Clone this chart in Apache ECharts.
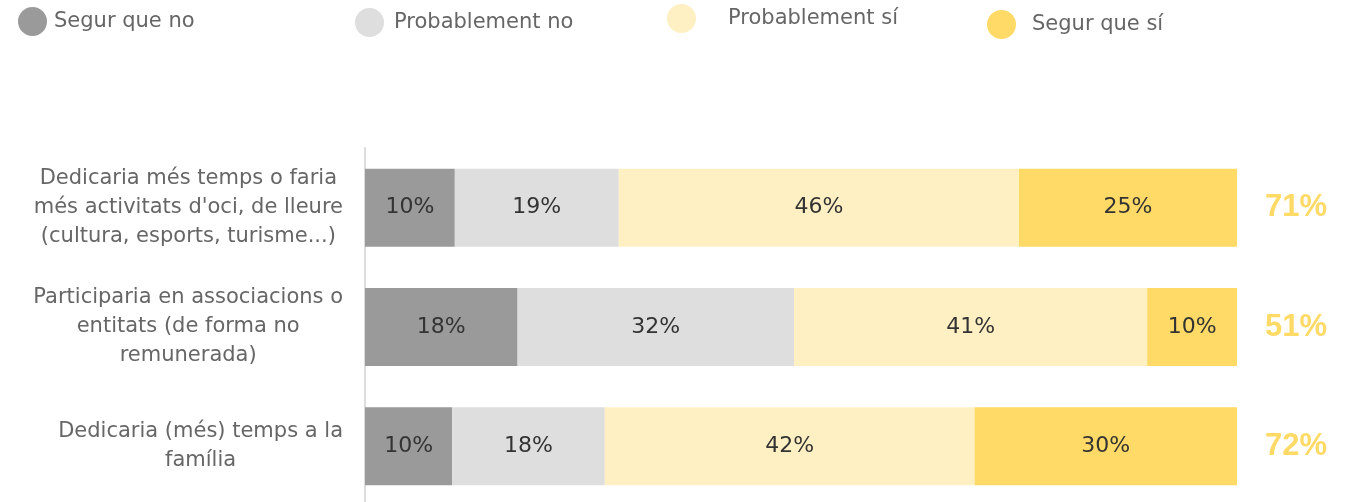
<!DOCTYPE html>
<html>
<head>
<meta charset="utf-8">
<script src="https://cdn.jsdelivr.net/npm/echarts@6/dist/echarts.min.js"></script>
<style>
  html, body { margin: 0; padding: 0; background: #fff; }
  #chart { width: 1347px; height: 502px; }
</style>
</head>
<body>
<div id="chart"></div>
<script>
// categories, top to bottom
const categories = [
  'Dedicaria més temps o faria\nmés activitats d\'oci, de lleure\n(cultura, esports, turisme...)',
  'Participaria en associacions o\nentitats (de forma no\nremunerada)',
  'Dedicaria (més) temps a la\nfamília'
]
const seriesNames = ['Segur que no', 'Probablement no', 'Probablement sí', 'Segur que sí']
const colors = ['#9a9a9a', '#dedede', '#fff0c4', '#ffda66']

// segment widths (% of respondents)
const segurNo = [10.3, 17.5, 10.0]
const probNo = [18.8, 31.7, 17.5]
const probSi = [45.9, 40.5, 42.4]
const segurSi = [25.0, 10.3, 30.1]

// printed percentages
const segurNoLabels = ['10%', '18%', '10%']
const probNoLabels = ['19%', '32%', '18%']
const probSiLabels = ['46%', '41%', '42%']
const segurSiLabels = ['25%', '10%', '30%']

// totals shown at the right (probablement + segur que sí)
const totalLabels = ['71%', '51%', '72%']

const values = [segurNo, probNo, probSi, segurSi]
const labels = [segurNoLabels, probNoLabels, probSiLabels, segurSiLabels]

const chart = echarts.init(document.getElementById('chart'))

// each legend entry sits on its own spot in the original
const legendPos = [
  { left: 18, top: 7, gap: 2 },
  { left: 355, top: 8, gap: 5 },
  { left: 667, top: 4, gap: 27 },
  { left: 987, top: 10, gap: 11 }
]

chart.setOption({
  animation: false,
  legend: seriesNames.map((name, i) => ({
    data: [name],
    left: legendPos[i].left,
    top: legendPos[i].top,
    padding: 0,
    icon: 'circle',
    itemWidth: 29,
    itemHeight: 29,
    selectedMode: false,
    textStyle: {
      fontSize: 21,
      color: '#666',
      fontFamily: 'DejaVu Sans',
      padding: [0, 0, 4, legendPos[i].gap]
    }
  })),
  grid: {
    left: 365,
    right: 110,
    top: 148,
    height: 358,
    outerBoundsMode: 'none'
  },
  xAxis: {
    type: 'value',
    min: 0,
    max: 100,
    show: false
  },
  yAxis: [
    {
      type: 'category',
      data: categories,
      inverse: true,
      axisLine: { show: true, lineStyle: { color: '#dddddd', width: 2 } },
      axisTick: { show: false },
      axisLabel: {
        margin: 22,
        align: 'right',
        formatter: v => v.split('\n').map(s => '{a|' + s + '}').join('\n'),
        rich: {
          a: {
            align: 'center',
            fontSize: 21,
            lineHeight: 29,
            color: '#666',
            fontFamily: 'DejaVu Sans'
          }
        }
      }
    },
    {
      type: 'category',
      data: totalLabels,
      inverse: true,
      position: 'right',
      axisLine: { show: false },
      axisTick: { show: false },
      axisLabel: {
        margin: 28,
        align: 'left',
        fontSize: 31,
        fontWeight: 'bold',
        color: '#ffda66',
        fontFamily: 'Liberation Sans, Arial, sans-serif',
        padding: [6, 0, 0, 0]
      }
    }
  ],
  series: seriesNames.map((name, i) => ({
    name: name,
    type: 'bar',
    stack: 'total',
    barWidth: 78,
    itemStyle: { color: colors[i] },
    label: {
      show: true,
      position: 'inside',
      fontSize: 22,
      color: '#333',
      fontFamily: 'DejaVu Sans',
      formatter: p => labels[i][p.dataIndex]
    },
    data: values[i]
  }))
})
</script>
</body>
</html>
